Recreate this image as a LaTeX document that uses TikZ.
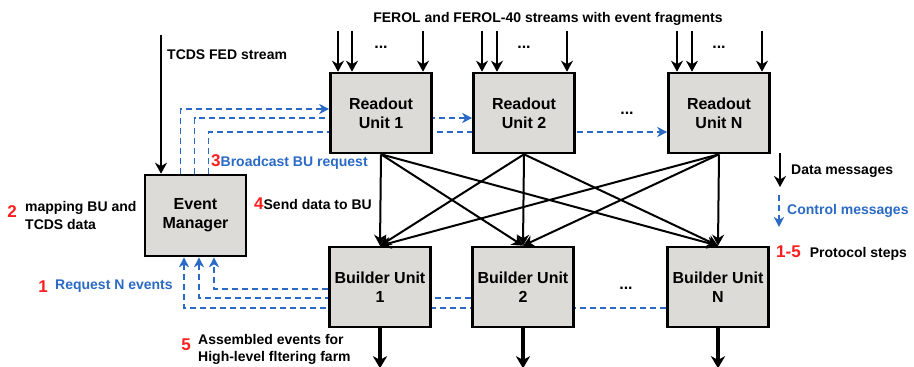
\documentclass[tikz,border=0pt]{standalone}
\usepackage{fontspec}
\setmainfont{Liberation Sans}
\usetikzlibrary{arrows.meta}
\definecolor{ctrlblue}{RGB}{42,106,196}
\definecolor{boxgray}{RGB}{221,219,215}
\definecolor{numred}{RGB}{255,30,30}
\tikzset{
  unitbox/.style={draw=black, fill=boxgray, line width=2.6pt, minimum width=101pt, minimum height=80pt, inner sep=0pt, align=center, font=\fontsize{16}{19}\selectfont\bfseries},
  datamsg/.style={line width=2pt, -{Stealth[length=11pt,width=12pt,inset=3.5pt]}},
  outmsg/.style={line width=3.3pt, -{Stealth[length=12pt,width=14pt,inset=3.5pt]}},
  ctrlmsg/.style={ctrlblue, line width=1.7pt, dash pattern=on 6pt off 4pt, -{Stealth[length=10pt,width=10pt,inset=3pt]}},
  lbl/.style={inner sep=0pt, anchor=west, font=\fontsize{14}{17}\selectfont\bfseries, align=left},
  dots/.style={inner sep=0pt, font=\fontsize{16}{19}\selectfont\bfseries},
  num/.style={text=numred, font=\fontsize{17}{19}\selectfont\bfseries}
}
\begin{document}
\begin{tikzpicture}[x=1pt,y=-1pt]
\useasboundingbox (0,0) rectangle (914,367);

% coordinates for box centers
\coordinate (cru1) at (381,113);
\coordinate (cru2) at (524,113);
\coordinate (crun) at (719,113);
\coordinate (cbu1) at (380,287);
\coordinate (cbu2) at (523,287);
\coordinate (cbun) at (718,287);
\coordinate (cem) at (195.5,215.5);

% placeholders so that control lines can be drawn behind boxes
\path (cru1) node[unitbox, draw=none, fill=none] (ru1p) {}
      (cru2) node[unitbox, draw=none, fill=none] (ru2p) {}
      (crun) node[unitbox, draw=none, fill=none] (runp) {}
      (cbu1) node[unitbox, draw=none, fill=none] (bu1p) {}
      (cbu2) node[unitbox, draw=none, fill=none] (bu2p) {}
      (cbun) node[unitbox, draw=none, fill=none] (bunp) {}
      (cem) node[unitbox, draw=none, fill=none, minimum height=81pt] (emp) {};

\draw[ctrlmsg] ([xshift=-15pt]emp.north) |- ([yshift=4pt]ru1p.west);
\draw[ctrlmsg] ([xshift=-1pt]emp.north) |- ([yshift=-5pt]ru2p.west);
\draw[ctrlmsg] ([xshift=13pt]emp.north) |- ([yshift=-19pt]runp.west);
\draw[ctrlmsg] ([yshift=-2pt]bu1p.west) -| ([xshift=18.5pt]emp.south);
\draw[ctrlmsg] ([yshift=-11pt]bu2p.west) -| ([xshift=3.5pt]emp.south);
\draw[ctrlmsg] ([yshift=-21pt]bunp.west) -| ([xshift=-11.5pt]emp.south);

% boxes
\node[unitbox] (ru1) at (cru1) {Readout\\Unit 1};
\node[unitbox] (ru2) at (cru2) {Readout\\Unit 2};
\node[unitbox] (run) at (crun) {Readout\\Unit N};
\node[unitbox] (bu1) at (cbu1) {Builder Unit\\1};
\node[unitbox] (bu2) at (cbu2) {Builder Unit\\2};
\node[unitbox] (bun) at (cbun) {Builder Unit\\N};
\node[unitbox, minimum height=81pt] (em) at (cem) {Event\\Manager};

% data mesh
\foreach \r in {ru1,ru2,run}{
  \foreach \b in {bu1,bu2,bun}{
    \draw[datamsg] (\r.south) -- (\b.north);
  }
}

% input streams
\foreach \x/\u in {338/ru1,352/ru1,423/ru1,482/ru2,497/ru2,567/ru2,677/run,692/run,762/run}{
  \coordinate (in\x) at (\x,31);
  \draw[datamsg] (in\x) -- (in\x |- \u.north);
}
\node[dots] (d1) at (381,47) {...};
\node[dots] (d2) at (524,47) {...};
\node[dots] (d3) at (719,47) {...};
\node[dots] (d4) at (627,113) {...};
\node[dots] (d5) at (626,288) {...};

\node[lbl, anchor=center] (title) at (548,19) {FEROL and FEROL-40 streams with event fragments};

% TCDS
\coordinate (tcds) at (161,35);
\draw[datamsg] (tcds) -- (tcds |- em.north);
\node[lbl] (tcdsl) at (167,55) {TCDS FED stream};

% outputs
\foreach \b in {bu1,bu2,bun}{
  \coordinate (out\b) at ([yshift=-40pt]\b.south);
  \draw[outmsg] (\b.south) -- (out\b);
}

% labels
\node[lbl] (l3) at (211,162) {\textcolor{numred}{\fontsize{17}{19}\selectfont 3}\textcolor{ctrlblue}{Broadcast BU request}};
\node[lbl] (l4) at (254,204) {\textcolor{numred}{\fontsize{17}{19}\selectfont 4}Send data to BU};
\node[num, inner sep=0pt] (n2) at (12,212) {2};
\node[lbl, font=\fontsize{14}{18}\selectfont\bfseries] (l2) at (25,215) {mapping BU and\\TCDS data};
\node[num, inner sep=0pt] (n1) at (43,287) {1};
\node[lbl, text=ctrlblue] (l1) at (55,286) {Request N events};
\node[num, inner sep=0pt] (n5) at (186,345) {5};
\node[lbl, font=\fontsize{14}{17}\selectfont\bfseries] (l5) at (198,349) {Assembled events for\\High-level fltering farm};

% legend
\coordinate (lg1a) at (780,153);
\coordinate (lg1b) at (780,187);
\draw[datamsg] (lg1a) -- (lg1b);
\node[lbl] (lgd) at (791,171) {Data messages};
\coordinate (lg2a) at (779,195);
\coordinate (lg2b) at (779,227);
\draw[ctrlmsg] (lg2a) -- (lg2b);
\node[lbl, text=ctrlblue] (lgc) at (787,211) {Control messages};
\node[lbl] (lgp) at (776,253) {\textcolor{numred}{\fontsize{17}{19}\selectfont 1-5}\hspace{9pt}Protocol steps};
\end{tikzpicture}
\end{document}
